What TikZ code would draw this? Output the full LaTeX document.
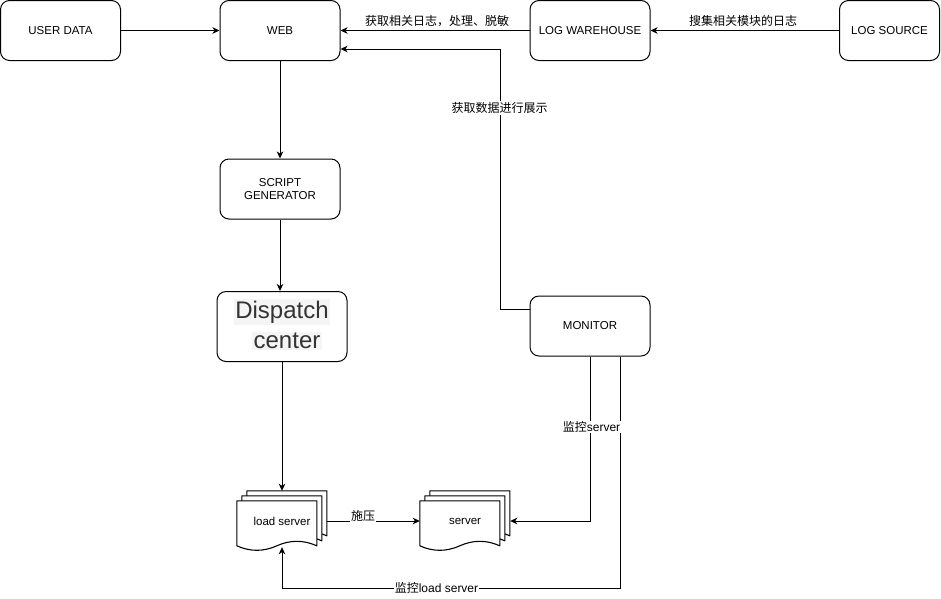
\documentclass[tikz,border=0pt]{standalone}
\usepackage{fontspec}
\setmainfont{Liberation Sans}
\newfontfamily\cjk{Noto Sans CJK SC}
\usetikzlibrary{arrows.meta,backgrounds}
\begin{document}
\begin{tikzpicture}[x=1pt,y=-1pt,
  font=\fontsize{11.5}{13.5}\selectfont,
  box/.style={draw, rounded corners=9pt, line width=1pt, minimum width=120pt,
    minimum height=60pt, align=center, inner sep=0pt},
  arr/.style={line width=1pt, -{Stealth[length=7pt,width=6.5pt,inset=2pt]}},
  lbl/.style={font=\fontsize{12}{14}\selectfont, fill=white, inner sep=1pt},
  hl/.style={fill=black!4, text=black!80, font=\fontsize{24}{27}\selectfont, inner sep=1.5pt},
  docl/.style={draw, fill=white, line width=1.1pt, line join=round},
  mdocpage/.pic={\path[docl] (0,0) -- (80,0) -- (80,45)
      .. controls (66.67,39) and (53.33,39) .. (40,45)
      .. controls (26.67,51) and (13.33,51) .. (0,45) -- cycle;},
  mdoc/.style={minimum width=90pt, minimum height=60pt, inner sep=0pt}]
\useasboundingbox (0,0) rectangle (941,598);

% boxes
\node[box] (user) at (60.5,30.5) {USER DATA};
\node[box] (web) at (280,30.5) {WEB};
\node[box] (wh) at (590,30.5) {LOG WAREHOUSE};
\node[box, minimum width=100pt] (src) at (889.5,30.5) {LOG SOURCE};
\node[box] (sg) at (280,189) {SCRIPT\\GENERATOR};
\node[box, minimum width=130pt, minimum height=70pt] (dc) at (282,326.5) {};
\node[hl] (dc1) at (282,312) {Dispatch};
\node[hl] (dc2) at (287,341) {center};
\node[box] (mon) at (590,326) {MONITOR};

% multi-document shapes
\node[mdoc] (ls) at (282,521) {load server};
\node[mdoc] (srv) at (465,521) {server};
\begin{scope}[on background layer]
  \begin{scope}[shift={(ls.north west)}]
    \pic at (10,0) {mdocpage};
    \pic at (5,5) {mdocpage};
    \pic at (0,10) {mdocpage};
  \end{scope}
  \begin{scope}[shift={(srv.north west)}]
    \pic at (10,0) {mdocpage};
    \pic at (5,5) {mdocpage};
    \pic at (0,10) {mdocpage};
  \end{scope}
\end{scope}

% helper coordinates
\coordinate (xv) at (500,0);
\coordinate (mw) at ([yshift=17pt]mon.west);
\coordinate (we2) at ([yshift=-18.5pt]web.east);
\coordinate (m2) at ([xshift=30pt]mon.south);
\coordinate (bl) at (282,588);
\coordinate (lsb) at ([yshift=4pt]ls.south);

% connectors
\draw[arr] (user) -- (web);
\draw[arr] (src) -- (wh);
\draw[arr] (wh) -- (web);
\draw[arr] (web) -- (sg);
\draw[arr] (sg.south) -- (sg.south |- dc.north);
\draw[arr] (dc.south) -- (ls.north);
\draw[arr] (ls.east) -- (srv.west);
\draw[arr] (mw) -- (mw -| xv) -- (we2 -| xv) -- (we2);
\draw[arr] (mon.south) |- (srv.east);
\draw[arr] (m2) |- (bl) -- (lsb);

% labels
\node[lbl] (l1) at (437,21) {\cjk 获取相关日志，处理、脱敏};
\node[lbl] (l2) at (743,21) {\cjk 搜集相关模块的日志};
\node[lbl] (l3) at (499.5,108) {\cjk 获取数据进行展示};
\node[lbl] (l4) at (363,516) {\cjk 施压};
\node[lbl] (l5) at (591.5,427) {{\cjk 监控}server};
\node[lbl] (l6) at (436.5,588) {{\cjk 监控}load server};
\end{tikzpicture}
\end{document}
